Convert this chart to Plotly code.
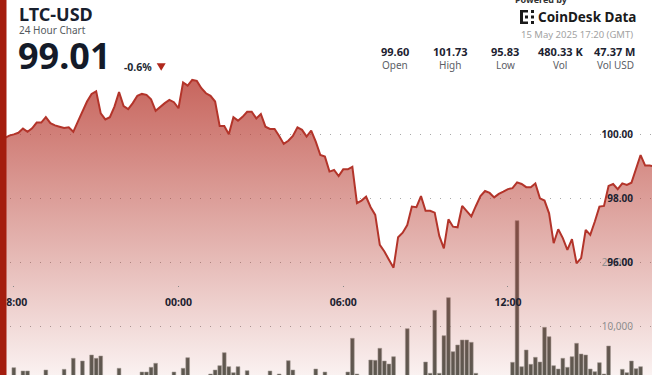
import pandas as pd
import plotly.graph_objects as go

# ---------------- data (10-minute intervals, 14 May 17:20 -> 15 May 17:20 GMT) ----------------
start_time = "2025-05-14 17:20"
n_points = 145

price = [
    99.60, 99.85, 99.90, 99.98, 100.02, 100.07, 100.20, 100.10, 100.21, 100.39,
    100.39, 100.56, 100.37, 100.30, 100.26, 100.22, 100.24, 100.10, 100.42, 100.76,
    101.05, 101.29, 101.37, 100.68, 100.49, 100.56, 100.89, 101.35, 100.91, 100.81,
    101.00, 101.23, 101.29, 101.26, 101.12, 100.76, 100.89, 101.00, 101.10, 101.03,
    100.84, 101.65, 101.55, 101.73, 101.70, 101.47, 101.31, 101.23, 101.05, 100.28,
    100.28, 100.02, 100.56, 100.45, 100.57, 100.73, 100.73, 100.52, 100.66, 100.26,
    100.19, 100.19, 99.97, 99.72, 99.82, 99.97, 100.24, 100.16, 99.95, 100.14,
    99.79, 99.37, 99.32, 98.85, 98.90, 98.71, 98.92, 98.92, 99.00, 97.86,
    97.94, 98.06, 97.73, 97.49, 96.55, 96.34, 96.08, 95.83, 96.79, 96.93,
    97.17, 97.75, 97.73, 98.08, 97.62, 97.62, 97.56, 96.83, 96.44, 97.35,
    97.12, 97.10, 97.77, 97.59, 97.44, 97.77, 98.08, 98.24, 98.18, 98.04,
    98.15, 98.22, 98.30, 98.33, 98.51, 98.46, 98.36, 98.36, 98.48, 98.01,
    97.94, 97.54, 96.60, 97.04, 96.76, 96.39, 96.73, 95.97, 96.13, 97.02,
    96.86, 97.28, 97.75, 97.77, 98.40, 98.46, 98.30, 98.48, 98.43, 98.50,
    98.95, 99.37, 99.04, 99.04, 99.01,
]

volume = [
    1500, 1800, 1400, 1900, 3434, 1600, 2914, 2914, 1700, 1300,
    2000, 3071, 1500, 1800, 1200, 3182, 1900, 4914, 1600, 4489,
    2100, 5434, 4914, 5276, 1400, 1700, 1900, 3339, 1500, 1300,
    1800, 2000, 2756, 2756, 3497, 4127, 1600, 1200, 1900, 2756,
    1700, 3339, 5009, 1800, 1500, 2000, 1900, 2441, 3071, 3749,
    5796, 3591, 2646, 3591, 1800, 2961, 1600, 1400, 2000, 1700,
    2914, 1500, 2441, 1900, 4536, 3071, 1800, 1400, 1700, 2000,
    3229, 1900, 2750, 1600, 1300, 1800, 2100, 2756, 8064, 2441,
    1900, 2000, 4646, 4599, 6489, 4489, 4016, 5166, 2100, 1800,
    9576, 2000, 1700, 1900, 4331, 2552, 12474, 2552, 8474, 14459,
    5954, 7009, 7796, 7796, 7434, 2552, 2000, 1600, 1800, 1400,
    1900, 2100, 1700, 4284, 26586, 3591, 6221, 3969, 5072, 4331,
    9797, 8316, 3749, 3229, 4914, 3497, 5166, 7277, 5591, 5434,
    3229, 2804, 4221, 2441, 6851, 2000, 1800, 3182, 2646, 4489,
    3276, 3591, 1900, 2100, 1500,
]

x_tick_times = ["2025-05-14 18:00", "2025-05-15 00:00", "2025-05-15 06:00", "2025-05-15 12:00"]
x_tick_labels = ["18:00", "00:00", "06:00", "12:00"]
price_ticks = [96, 98, 100]
volume_ticks = [10000, 20000]

title = "LTC-USD"
subtitle = "24 Hour Chart"
last_price = "99.01"
change_pct = "-0.6%"
stat_values = ["99.60", "101.73", "95.83", "480.33 K", "47.37 M"]
stat_labels = ["Open", "High", "Low", "Vol", "Vol USD"]
timestamp_text = "15 May 2025 17:20 (GMT)"

times = pd.date_range(start_time, periods=n_points, freq="10min")

# ---------------- figure ----------------
W, H = 652, 375
FONT = "Noto Sans"


def px(x):
    return x / W


def py(y):
    return 1 - y / H


fig = go.Figure()

fig.add_trace(go.Bar(
    x=times, y=volume, yaxis="y",
    marker=dict(color="rgb(86,90,82)", line=dict(color="rgba(160,162,156,0.9)", width=0.6)),
    width=10 * 60 * 1000 * 0.82,
    hoverinfo="skip",
))

fig.add_trace(go.Scatter(
    x=times, y=price, yaxis="y2", mode="lines",
    line=dict(color="#b3342a", width=2),
    fill="tozeroy",
    fillgradient=dict(
        type="vertical",
        colorscale=[[0, "rgba(185,62,52,0.07)"], [1, "rgba(185,62,52,0.80)"]],
        start=92.46, stop=101.8,
    ),
    hoverinfo="skip",
))

grid_style = dict(showgrid=True, gridcolor="#a8a8a8", gridwidth=1, griddash="1px,9px")

fig.update_layout(
    template="none",
    width=W, height=H,
    margin=dict(l=0, r=0, t=0, b=0, pad=0),
    paper_bgcolor="white", plot_bgcolor="white",
    showlegend=False,
    xaxis=dict(
        type="date",
        automargin=False,
        range=["2025-05-14 17:29:49", "2025-05-15 17:14:56"],
        tickvals=x_tick_times,
        ticktext=[f"<b>{t}</b>" for t in x_tick_labels],
        ticks="outside", ticklen=1, tickcolor="#888", tickwidth=1,
        anchor="free", position=(H - 285) / H,
        showgrid=False, zeroline=False, showline=False,
        tickfont=dict(family=FONT, size=10.5, color="#1c2230"),
        ticklabelstandoff=6,
    ),
    yaxis=dict(
        automargin=False,
        range=[2283, 61339],
        side="right",
        tickvals=volume_ticks,
        ticktext=[f"{v:,}" for v in volume_ticks],
        ticklabelposition="inside",
        ticklabelstandoff=16,
        ticks="",
        zeroline=False, showline=False,
        tickfont=dict(family=FONT, size=10, color="#8e8e8e"),
        **grid_style,
    ),
    yaxis2=dict(
        automargin=False,
        range=[92.46, 104.24],
        overlaying="y",
        side="right",
        tickvals=price_ticks,
        ticktext=[f"<b>{v:.2f}</b>" for v in price_ticks],
        ticklabelposition="inside",
        ticklabelstandoff=16,
        ticks="",
        zeroline=False, showline=False,
        tickfont=dict(family=FONT, size=10, color="#1c2230"),
        **grid_style,
    ),
)

ann = []


def text(s, x, y, size, color, bold=False, xanchor="left"):
    ann.append(dict(
        text=f"<b>{s}</b>" if bold else s,
        x=px(x), y=py(y), xref="paper", yref="paper",
        xanchor=xanchor, yanchor="middle", showarrow=False,
        font=dict(family=FONT, size=size, color=color),
    ))


text(title, 17, 14, 18, "#18202e", bold=True)
text(subtitle, 17, 29.5, 10, "#555a60")
text(last_price, 16, 56, 36, "#141b29", bold=True)
text(change_pct, 122, 67, 10.5, "#222833", bold=True)

stat_centers = [395, 450, 505, 560, 615]
for cx, v, lab in zip(stat_centers, stat_values, stat_labels):
    text(v, cx, 51, 11, "#1c2230", bold=True, xanchor="center")
    text(lab, cx, 65.5, 10, "#5c6066", xanchor="center")

text("Powered by", 541, -1, 9, "#333", bold=True, xanchor="center")
text("CoinDesk Data", 536, 17, 13.5, "#1a1a1a", bold=True)
text(timestamp_text, 635, 34.5, 9.5, "#a2a2a2", xanchor="right")

fig.update_layout(annotations=ann)

shapes = []
# left red accent bar
shapes.append(dict(type="rect", xref="paper", yref="paper", x0=0, x1=px(6.5), y0=0, y1=1,
                   fillcolor="#a41d0e", line=dict(width=0), layer="above"))
# down triangle
shapes.append(dict(type="path", xref="paper", yref="paper",
                   path=f"M {px(156.7)},{py(63.3)} L {px(165.7)},{py(63.3)} L {px(161.2)},{py(70.7)} Z",
                   fillcolor="#b0281c", line=dict(width=0), layer="above"))
# logo glyph (small blocks)
for (a, b, c, d) in [(520, 10, 523, 24), (520, 10, 528, 12.5), (520, 21.5, 528, 24),
                     (525, 15.5, 528, 18.5), (531, 10, 534, 13), (531, 21, 534, 24),
                     (531, 15.5, 534, 18.5)]:
    shapes.append(dict(type="rect", xref="paper", yref="paper",
                       x0=px(a), x1=px(c), y0=py(d), y1=py(b),
                       fillcolor="#1a1a1a", line=dict(width=0), layer="above"))
fig.update_layout(shapes=shapes)

fig.write_html(
    "out.html",
    config={"displayModeBar": False},
    post_script="document.body.style.margin='0';document.body.style.overflow='hidden';",
)
